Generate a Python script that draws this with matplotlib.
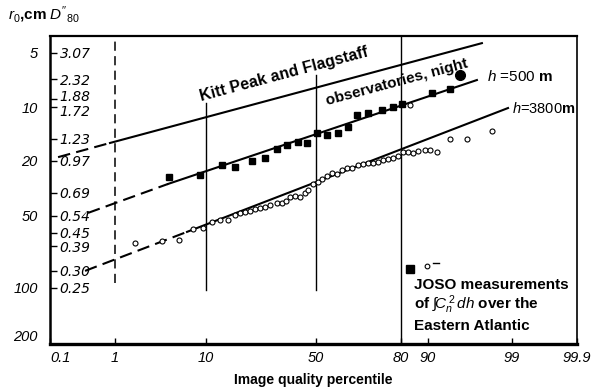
import math
from statistics import NormalDist
import numpy as np
import matplotlib
matplotlib.use("Agg")
import matplotlib.pyplot as plt
from matplotlib.ticker import NullLocator
from matplotlib.transforms import ScaledTranslation

plt.rcParams['font.family'] = ['Liberation Sans', 'DejaVu Sans']
plt.rcParams['mathtext.fontset'] = 'custom'
plt.rcParams['mathtext.rm'] = 'Liberation Sans'
plt.rcParams['mathtext.it'] = 'Liberation Sans:italic'
plt.rcParams['mathtext.bf'] = 'Liberation Sans:bold'

# ---------------- data (percentile, image size D'' in arcsec) ----------------
sq_pct = [4.42, 8.9, 13.7, 17.3, 22.8, 27.7, 32.5, 36.8, 41.7, 45.8, 50.4, 54.4,
          58.7, 62.5, 65.8, 69.7, 74.4, 77.8, 80.6, 90.9, 94.0]
sq_D = [0.817, 0.835, 0.929, 0.909, 0.970, 1.001, 1.102, 1.150, 1.187, 1.175,
        1.307, 1.279, 1.307, 1.393, 1.584, 1.618, 1.671, 1.725, 1.781, 2.00, 2.09]

big_pct = [95.4]
big_D = [2.43]

circ_pct = [1.81, 3.72, 5.6, 7.67, 9.5, 11.3, 13.2, 15.3, 17.3, 18.9, 20.5, 22.2,
            23.9, 25.8, 27.7, 29.6, 32.5, 34.6, 36.4, 38.1, 40.3, 42.6, 44.9, 46.3,
            48.6, 50.8, 52.4, 54.4, 56.3, 58.3, 60.2, 62.1, 64.0, 66.2, 68.0, 69.7,
            71.5, 73.1, 74.7, 76.3, 77.8, 79.3, 81.0, 83.2, 85.1, 86.9, 89.2, 90.5,
            91.9, 94.0, 96.2, 98.1, 84.0]
circ_D = [0.404, 0.413, 0.417, 0.469, 0.474, 0.506, 0.517, 0.517, 0.545, 0.557,
          0.563, 0.569, 0.581, 0.587, 0.593, 0.606, 0.619, 0.619, 0.633, 0.660,
          0.667, 0.660, 0.689, 0.711, 0.759, 0.775, 0.800, 0.826, 0.853, 0.844,
          0.881, 0.900, 0.900, 0.929, 0.939, 0.949, 0.949, 0.959, 0.980, 0.990,
          1.001, 1.023, 1.067, 1.067, 1.056, 1.079, 1.090, 1.090, 1.067, 1.226,
          1.226, 1.335, 1.762]

# fitted lines: dashed part then solid part
kitt_dash_pct = [0.137, 0.854]
kitt_dash_D = [1.01, 1.175]
kitt_pct = [0.854, 97.46]
kitt_D = [1.175, 3.41]

h500_dash_pct = [0.41, 4.32]
h500_dash_D = [0.557, 0.759]
h500_pct = [4.32, 97.07]
h500_D = [0.759, 2.30]

h3800_dash_pct = [0.37, 6.72]
h3800_dash_D = [0.300, 0.455]
h3800_pct = [6.72, 98.86]
h3800_D = [0.455, 1.706]

# vertical guide lines (percentile, D range)
guide1_pct, guide1_D = 1.0, [0.264, 3.68]
guide10_pct, guide10_D = 10.0, [0.245, 1.80]
guide50_pct, guide50_D = 50.0, [0.245, 2.43]
guide80_pct = 80.0

x_ticks = [0.1, 1, 10, 50, 80, 90, 99, 99.9]
x_labels = ['0.1', '1', '10', '50', '80', '90', '99', '99.9']
r0_labels = ['5', '10', '20', '50', '100', '200']
r0_at_D = [3.07, 1.72, 0.97, 0.54, 0.25, 0.15]
D_ticks = [3.07, 2.32, 1.88, 1.72, 1.23, 0.97, 0.69, 0.54, 0.45, 0.39, 0.30, 0.25]
D_labels = ['3.07', '2.32', '1.88', '1.72', '1.23', '0.97', '0.69', '0.54',
            '0.45', '0.39', '0.30', '0.25']

# ---------------- probability-paper x scale ----------------
_nd = NormalDist()
_probit = np.vectorize(lambda p: _nd.inv_cdf(min(max(p, 1e-7), 100 - 1e-7) / 100.0),
                       otypes=[float])
_cdf = np.vectorize(lambda z: 50.0 * (1.0 + math.erf(z / math.sqrt(2.0))), otypes=[float])

# paper layout of the percentile rulings (fraction of axis width)
P_ANCH = [0.1, 1, 10, 50, 80, 90, 99, 99.9]
U_ANCH = [0.0, 0.1233, 0.2955, 0.5047, 0.6655, 0.7167, 0.8767, 1.0]
Z_ANCH = list(_probit(np.array(P_ANCH)))
Z_EXT = [-8.0] + Z_ANCH + [8.0]
U_EXT = [-(8.0 - 3.090) * 0.1613] + U_ANCH + [1.0 + (8.0 - 3.090) * 0.1613]


def fwd(p):
    p = np.asarray(p, dtype=float)
    return np.interp(_probit(p), Z_EXT, U_EXT)


def inv(u):
    u = np.asarray(u, dtype=float)
    return _cdf(np.interp(u, U_EXT, Z_EXT))


# ---------------- figure ----------------
fig = plt.figure(figsize=(5.93, 3.89), dpi=100)
ax = fig.add_axes([50 / 593, 1 - 344 / 389, 527 / 593, 308 / 389])
ax.set_xscale('function', functions=(fwd, inv))
ax.set_yscale('log')
ax.set_xlim(0.1, 99.9)
ax.set_ylim(0.1375, 3.68)

lw = 1.5
dash = (0, (6, 3))
ax.plot(kitt_dash_pct, kitt_dash_D, color='black', lw=lw, ls=dash)
ax.plot(kitt_pct, kitt_D, color='black', lw=lw)
ax.plot(h500_dash_pct, h500_dash_D, color='black', lw=lw, ls=dash)
ax.plot(h500_pct, h500_D, color='black', lw=lw)
ax.plot(h3800_dash_pct, h3800_dash_D, color='black', lw=lw, ls=dash)
ax.plot(h3800_pct, h3800_D, color='black', lw=lw)

ax.plot([guide1_pct] * 2, guide1_D, color='black', lw=1.1, ls=(0, (6, 3.5)))
ax.plot([guide10_pct] * 2, guide10_D, color='black', lw=1.0)
ax.plot([guide50_pct] * 2, guide50_D, color='black', lw=1.0)
ax.axvline(guide80_pct, color='black', lw=1.0)

ax.plot(sq_pct, sq_D, ls='none', marker='s', ms=5, color='black')
ax.plot(big_pct, big_D, ls='none', marker='o', ms=7, color='black')
ax.plot(circ_pct, circ_D, ls='none', marker='o', ms=3.6, mfc='white',
        mec='black', mew=0.8)

# axes styling
for side, w in [('bottom', 2.4), ('left', 1.8), ('top', 1.6), ('right', 1.2)]:
    ax.spines[side].set_linewidth(w)

ax.xaxis.set_minor_locator(NullLocator())
ax.yaxis.set_minor_locator(NullLocator())
ax.set_xticks(x_ticks, labels=x_labels)
ax.tick_params(axis='x', direction='in', length=4, width=1, pad=5, labelsize=10.5)
for lab in ax.get_xticklabels():
    lab.set_fontstyle('italic')
ax.get_xticklabels()[0].set_ha('left')

ax.set_yticks(r0_at_D, labels=r0_labels)
ax.tick_params(axis='y', length=0, pad=9, labelsize=10.5)
for lab in ax.get_yticklabels():
    lab.set_fontstyle('italic')

sec = ax.secondary_yaxis('left')
sec.set_alignment('right')
sec.yaxis.set_minor_locator(NullLocator())
sec.set_yticks(D_ticks, labels=D_labels)
sec.tick_params(axis='y', direction='out', length=5, width=1, pad=2, labelsize=10)
for lab in sec.get_yticklabels():
    lab.set_fontstyle('italic')
    lab.set_fontfamily(['DejaVu Sans'])
# the two crowded labels are spread apart slightly, as printed
_labs = sec.get_yticklabels()
_labs[2].set_transform(_labs[2].get_transform() +
                       ScaledTranslation(0, 3 / 100, fig.dpi_scale_trans))
_labs[3].set_transform(_labs[3].get_transform() +
                       ScaledTranslation(0, -3 / 100, fig.dpi_scale_trans))
for s in sec.spines.values():
    s.set_visible(False)

ax.set_xlabel('Image quality percentile', fontsize=10, fontweight='bold', labelpad=6)
fig.text(8 / 593, 1 - 15 / 389, r"$r_0$,cm $D''_{80}$", fontsize=11, fontweight='bold',
         ha='left', va='center')

# annotations
ax.text(0.444, 0.877, 'Kitt Peak and Flagstaff', transform=ax.transAxes, rotation=15,
        rotation_mode='anchor', ha='center', va='center', fontsize=11.5, fontweight='bold')
ax.text(0.658, 0.851, 'observatories, night', transform=ax.transAxes, rotation=15,
        rotation_mode='anchor', ha='center', va='center', fontsize=11, fontweight='bold')
ax.text(0.829, 0.867, r'$h$ =$\it{500}$ $\bf{m}$', transform=ax.transAxes,
        ha='left', va='center', fontsize=11)
ax.text(0.877, 0.766, r'$h$=$\it{3800}$$\bf{m}$', transform=ax.transAxes,
        ha='left', va='center', fontsize=10.5)

ax.plot([0.683], [0.2435], transform=ax.transAxes, marker='s', ms=5.5, color='black',
        ls='none', clip_on=False)
ax.plot([0.715], [0.253], transform=ax.transAxes, marker='o', ms=3.4, mfc='white',
        mec='black', mew=0.8, ls='none')
ax.plot([0.727, 0.739], [0.262, 0.262], transform=ax.transAxes, color='black', lw=1.0)
ax.text(0.691, 0.1916, 'JOSO measurements', transform=ax.transAxes, ha='left',
        va='center', fontsize=11, fontweight='bold')
ax.text(0.691, 0.1266, r'of $\int\!C_n^{\,2}\,dh$ over the', transform=ax.transAxes,
        ha='left', va='center', fontsize=11, fontweight='bold')
ax.text(0.691, 0.058, 'Eastern Atlantic', transform=ax.transAxes, ha='left',
        va='center', fontsize=11, fontweight='bold')

fig.savefig('out.png', dpi=100)
